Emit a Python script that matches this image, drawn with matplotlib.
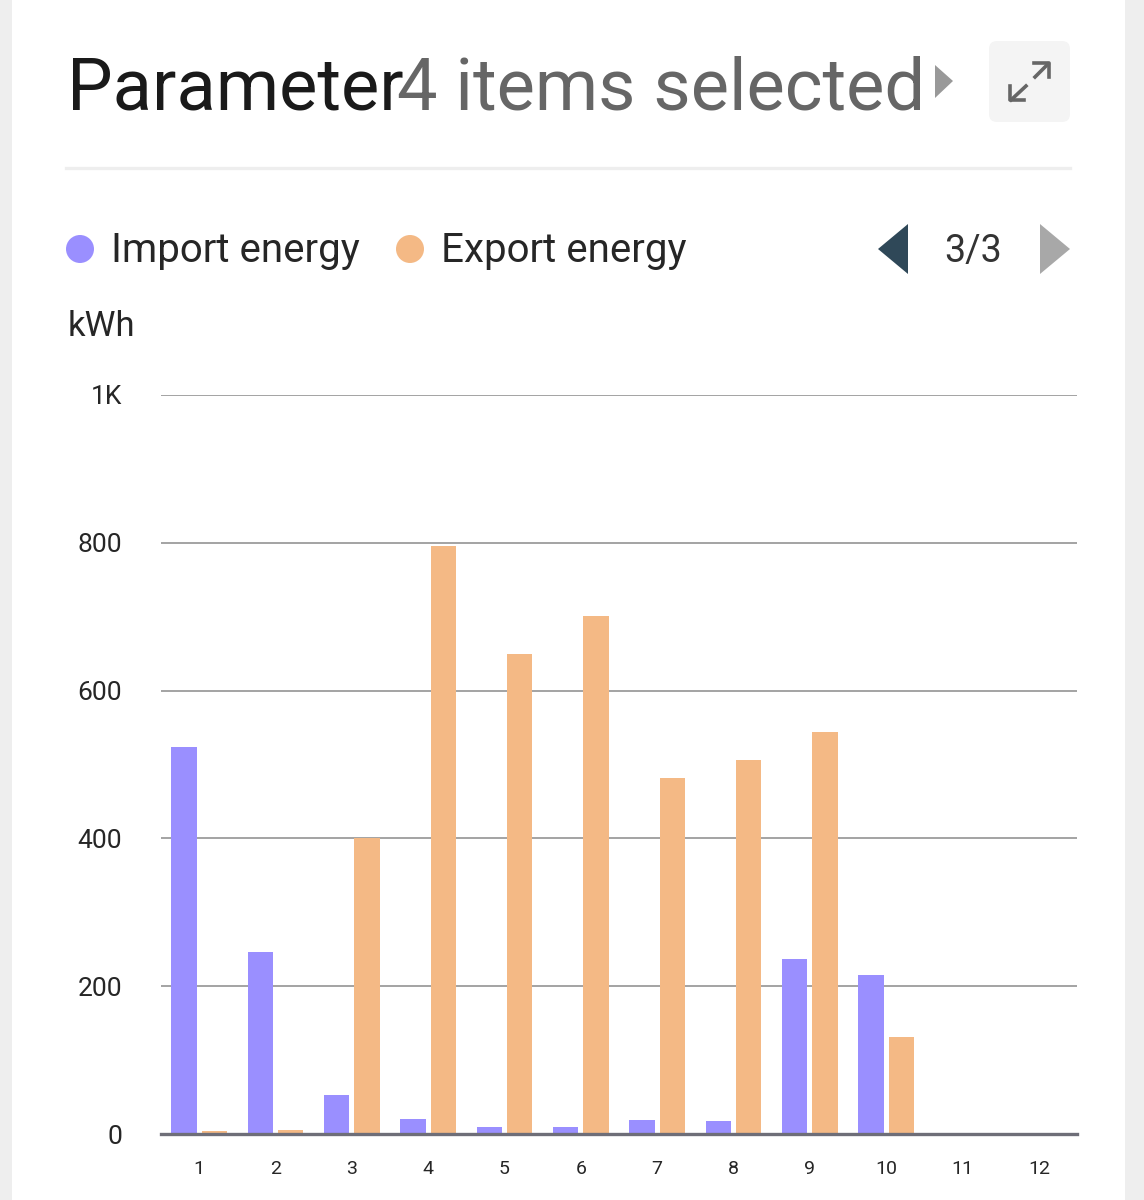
import numpy as np
import matplotlib
matplotlib.use("Agg")
import matplotlib.pyplot as plt
from matplotlib.patches import Rectangle, Circle, Polygon, FancyBboxPatch

plt.rcParams['font.family'] = ['Roboto', 'DejaVu Sans']

months = ['1', '2', '3', '4', '5', '6', '7', '8', '9', '10', '11', '12']
import_energy = [524, 246, 53, 20, 10, 10, 19, 18, 237, 215, 0, 0]
export_energy = [4, 5, 400, 795, 650, 701, 482, 506, 544, 131, 0, 0]
y_ticks = [0, 200, 400, 600, 800, 1000]
y_labels = ['0', '200', '400', '600', '800', '1K']

W, H = 1144, 1200
fig = plt.figure(figsize=(W / 100, H / 100), dpi=100, facecolor='white')

# page chrome, drawn in pixel coordinates
ui = fig.add_axes([0, 0, 1, 1])
ui.set_xlim(0, W)
ui.set_ylim(H, 0)
ui.axis('off')
ui.add_patch(Rectangle((0, 0), 12, H, color='#eeeeee', lw=0))
ui.add_patch(Rectangle((1125, 0), 19, H, color='#eeeeee', lw=0))

ui.text(67, 109, 'Parameter', fontsize=52, color='#1a1a1a', va='baseline')
ui.text(397, 109, '4 items selected', fontsize=52, color='#666666', va='baseline')
ui.add_patch(Polygon([(935, 65), (935, 98), (953, 81)], color='#999999', lw=0))

# expand button
ui.add_patch(FancyBboxPatch((994, 46), 71, 71, boxstyle='round,pad=5,rounding_size=8',
                            fc='#f4f4f4', ec='none'))
ui.plot([1035, 1048], [77, 64], color='#666666', lw=2.6)
ui.plot([1034, 1049, 1049], [63, 63, 77], color='#666666', lw=2.6)
ui.plot([1011, 1026], [100, 86], color='#666666', lw=2.6)
ui.plot([1010, 1010, 1024], [86, 100, 100], color='#666666', lw=2.6)

ui.plot([66, 1070], [167.5, 167.5], color='#eeeeee', lw=2.4)

# legend and pager
ui.add_patch(Circle((80, 249), 14, color='#9a8fff', lw=0))
ui.text(111, 262, 'Import energy', fontsize=29, color='#262626', va='baseline')
ui.add_patch(Circle((410, 249), 14, color='#f4b985', lw=0))
ui.text(441, 262, 'Export energy', fontsize=29, color='#262626', va='baseline')
ui.add_patch(Polygon([(908, 224), (908, 274), (878, 249)], color='#2f4858', lw=0))
ui.text(973, 262, '3/3', fontsize=27, color='#333333', va='baseline', ha='center')
ui.add_patch(Polygon([(1040, 224), (1040, 274), (1070, 249)], color='#a8a8a8', lw=0))
ui.text(68, 336, 'kWh', fontsize=25, color='#262626', va='baseline')

# chart
ax_left, ax_right, ax_top, ax_bottom = 161, 1077, 395, 1134
ax = fig.add_axes([ax_left / W, 1 - ax_bottom / H, (ax_right - ax_left) / W, (ax_bottom - ax_top) / H])
ax.patch.set_alpha(0)
x = np.arange(len(months))
width = 0.334
ax.bar(x - 0.198, import_energy, width, color='#9a8fff', zorder=3)
ax.bar(x + 0.198, export_energy, width, color='#f4b985', zorder=3)

ax.set_xlim(-0.5, 11.5)
ax.set_ylim(0, 1000)
ax.set_yticks(y_ticks)
ax.set_yticklabels(y_labels, fontsize=19, color='#262626')
ax.set_xticks(x)
ax.set_xticklabels(months, fontsize=14, color='#262626')
ax.tick_params(axis='y', length=0, pad=28)
ax.tick_params(axis='x', length=0, pad=19)
ax.grid(axis='y', color='#8a8a8a', lw=1.1, zorder=1)
ax.set_axisbelow(True)
for side in ['top', 'right', 'left']:
    ax.spines[side].set_visible(False)
ax.spines['bottom'].set_color('#6e6e78')
ax.spines['bottom'].set_linewidth(2.4)
ax.spines['bottom'].set_zorder(4)

fig.savefig('out.png', dpi=100)
